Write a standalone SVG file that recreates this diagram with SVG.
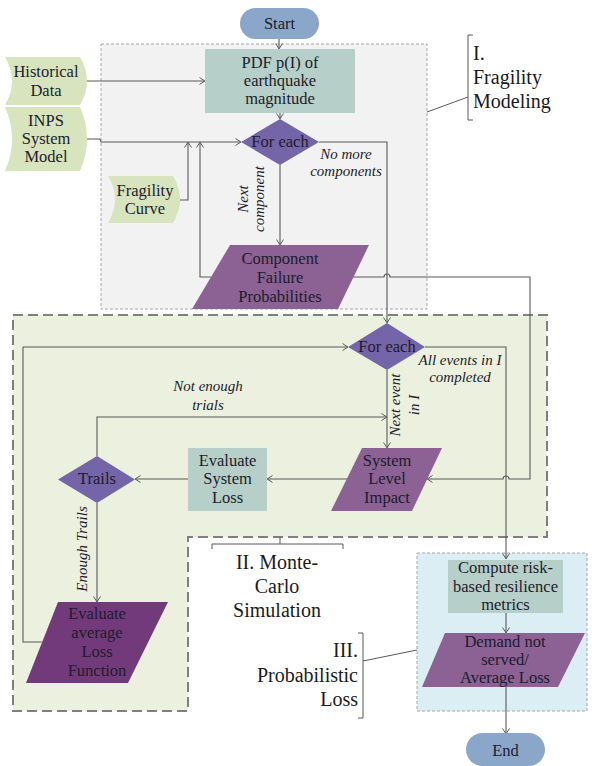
<svg xmlns="http://www.w3.org/2000/svg" width="592" height="766" viewBox="0 0 592 766">
<defs>
<marker id="arr" viewBox="0 0 6 8" refX="6" refY="4" markerWidth="6" markerHeight="8" markerUnits="userSpaceOnUse" orient="auto">
<path d="M0.5,0.5 L5.8,4 L0.5,7.5" fill="none" stroke="#595959" stroke-width="1"/>
</marker>
<style>
.t{font-family:"Liberation Serif","DejaVu Serif",serif;font-size:16.5px;fill:#1c1c2c;text-anchor:middle}
.i{font-family:"Liberation Serif","DejaVu Serif",serif;font-size:15px;font-style:italic;fill:#1c1c2c;text-anchor:middle}
.r{font-family:"Liberation Serif","DejaVu Serif",serif;font-size:20px;fill:#1a1a1a}
.c{fill:none;stroke:#595959;stroke-width:1.1}
.ca{fill:none;stroke:#595959;stroke-width:1.1;marker-end:url(#arr)}
.b{fill:none;stroke:#595959;stroke-width:1}
.term{fill:#8aa6c9}
.proc{fill:#b6cfc8}
.inp{fill:#d7e4bd}
.dec{fill:#7464a8}
.io{fill:#8b6293}
.io2{fill:#733a7b}
</style>
</defs>

<g id="regions">
<rect id="region-I" x="101" y="44" width="326" height="265" fill="#f2f2f2" stroke="#a6a6a6" stroke-width="1" stroke-dasharray="3,2"/>
<path id="region-II" d="M13,315 H547 V537 H188 V711 H13 Z" fill="#ebf1de" stroke="#7f7f7f" stroke-width="2" stroke-dasharray="10,5"/>
<rect id="region-III" x="417" y="553" width="170" height="158" fill="#dbeef4" stroke="#a6a6a6" stroke-width="1" stroke-dasharray="3,2"/>
</g>

<g id="connectors">
<path class="ca" d="M279,39 V49"/>
<path class="ca" d="M87,81 H205"/>
<path class="ca" d="M280,113 V119"/>
<path class="ca" d="M87,139 H100 L101,142 H241"/>
<path class="ca" d="M180,200 H188 V142"/>
<path class="ca" d="M211,277 H200 V142"/>
<path class="ca" d="M280,165 V245"/>
<path class="ca" d="M319,142 H387 V323"/>
<path class="ca" d="M353,277 H384 A3,3 0 0 1 390,277 H530 V479 H509 A3,3 0 0 0 503,479 H427"/>
<path class="ca" d="M425,347 H506 V559"/>
<path class="ca" d="M387,370 V448"/>
<path class="ca" d="M347,479 H267"/>
<path class="ca" d="M188,479 H135"/>
<path class="ca" d="M97,456 V417 H387"/>
<path class="ca" d="M97,503 V602"/>
<path class="ca" d="M42,642 H23 V347 H348"/>
<path class="ca" d="M506,613 V633"/>
<path class="ca" d="M506,687 V734"/>
</g>

<g id="start">
<rect class="term" x="240" y="8" width="79" height="31" rx="15.5"/>
<text class="t" x="279.5" y="29">Start</text>
</g>

<g id="historical-data">
<path class="inp" d="M5,57 H80 Q94,81 80,105 H5 Q19,81 5,57 Z"/>
<text class="t" x="46" y="77">Historical</text>
<text class="t" x="46" y="96">Data</text>
</g>

<g id="inps-model">
<path class="inp" d="M5,107 H80 Q94,139 80,171 H5 Q19,139 5,107 Z"/>
<text class="t" x="46" y="126">INPS</text>
<text class="t" x="46" y="144">System</text>
<text class="t" x="46" y="162">Model</text>
</g>

<g id="fragility-curve">
<path class="inp" d="M108,176 H173 Q187,199.5 173,223 H108 Q122,199.5 108,176 Z"/>
<text class="t" x="145" y="196">Fragility</text>
<text class="t" x="145" y="214">Curve</text>
</g>

<g id="pdf">
<rect class="proc" x="205" y="49" width="150" height="64"/>
<text class="t" x="280" y="68">PDF p(I) of</text>
<text class="t" x="280" y="86">earthquake</text>
<text class="t" x="280" y="104">magnitude</text>
</g>

<g id="for-each-1">
<path class="dec" d="M280,119 L319,142 L280,165 L241,142 Z"/>
<text class="t" x="280" y="147">For each</text>
</g>

<g id="component-failure">
<path class="io" d="M230,245 H369 L338,309 H192 Z"/>
<text class="t" x="280" y="264">Component</text>
<text class="t" x="280" y="283">Failure</text>
<text class="t" x="280" y="302">Probabilities</text>
</g>

<g id="for-each-2">
<path class="dec" d="M387,323 L425,347 L387,370 L348,347 Z"/>
<text class="t" x="387" y="352">For each</text>
</g>

<g id="system-level-impact">
<path class="io" d="M362,448 H442 L412,511 H331 Z"/>
<text class="t" x="387" y="466">System</text>
<text class="t" x="387" y="484">Level</text>
<text class="t" x="387" y="503">Impact</text>
</g>

<g id="evaluate-system-loss">
<rect class="proc" x="188" y="448" width="79" height="63"/>
<text class="t" x="227.5" y="466">Evaluate</text>
<text class="t" x="227.5" y="484">System</text>
<text class="t" x="227.5" y="503">Loss</text>
</g>

<g id="trails">
<path class="dec" d="M97,456 L135,479.5 L97,503 L58,479.5 Z"/>
<text class="t" x="97" y="484">Trails</text>
</g>

<g id="evaluate-average-loss">
<path class="io2" d="M58,602 H168 L128,683 H26 Z"/>
<text class="t" x="97" y="619">Evaluate</text>
<text class="t" x="97" y="638">average</text>
<text class="t" x="97" y="657">Loss</text>
<text class="t" x="97" y="676">Function</text>
</g>

<g id="compute-metrics">
<rect class="proc" x="448" y="560" width="115" height="53" fill="#b7cfc6"/>
<text class="t" x="505.5" y="573">Compute risk-</text>
<text class="t" x="505.5" y="592">based resilience</text>
<text class="t" x="505.5" y="610">metrics</text>
</g>

<g id="demand-not-served">
<path class="io" d="M445,633 H585 L558,687 H422 Z"/>
<text class="t" x="505" y="647">Demand not</text>
<text class="t" x="505" y="665">served/</text>
<text class="t" x="505" y="683">Average Loss</text>
</g>

<g id="end">
<rect class="term" x="466" y="733" width="79" height="33" rx="16.5"/>
<text class="t" x="505.5" y="756">End</text>
</g>

<g id="edge-labels">
<text class="i" x="346" y="159">No more</text>
<text class="i" x="346" y="176">components</text>
<text class="i" transform="translate(248,199) rotate(-90)">Next</text>
<text class="i" transform="translate(264,199) rotate(-90)">component</text>
<text class="i" x="460" y="365">All events in I</text>
<text class="i" x="460" y="382">completed</text>
<text class="i" transform="translate(400,405) rotate(-90)">Next event</text>
<text class="i" transform="translate(419,405) rotate(-90)">in I</text>
<text class="i" x="208" y="391">Not enough</text>
<text class="i" x="208" y="410">trials</text>
<text class="i" transform="translate(87,549) rotate(-90)">Enough Trails</text>
</g>

<g id="label-I">
<path class="b" d="M473,35 H468 V120 H473"/>
<path class="b" d="M468,97 L427,112"/>
<text class="r" x="473" y="60">I.</text>
<text class="r" x="473" y="84">Fragility</text>
<text class="r" x="473" y="108">Modeling</text>
</g>

<g id="label-II">
<path class="b" d="M212,549 V544 H343 V549"/>
<path class="b" d="M280,544 V537"/>
<text class="r" x="277" y="569" text-anchor="middle">II. Monte-</text>
<text class="r" x="277" y="593" text-anchor="middle">Carlo</text>
<text class="r" x="277" y="617" text-anchor="middle">Simulation</text>
</g>

<g id="label-III">
<path class="b" d="M358,633 H363 V718 H358"/>
<path class="b" d="M363,661 L417,650"/>
<text class="r" x="358" y="657" text-anchor="end">III.</text>
<text class="r" x="358" y="682" text-anchor="end">Probabilistic</text>
<text class="r" x="358" y="706" text-anchor="end">Loss</text>
</g>
</svg>
